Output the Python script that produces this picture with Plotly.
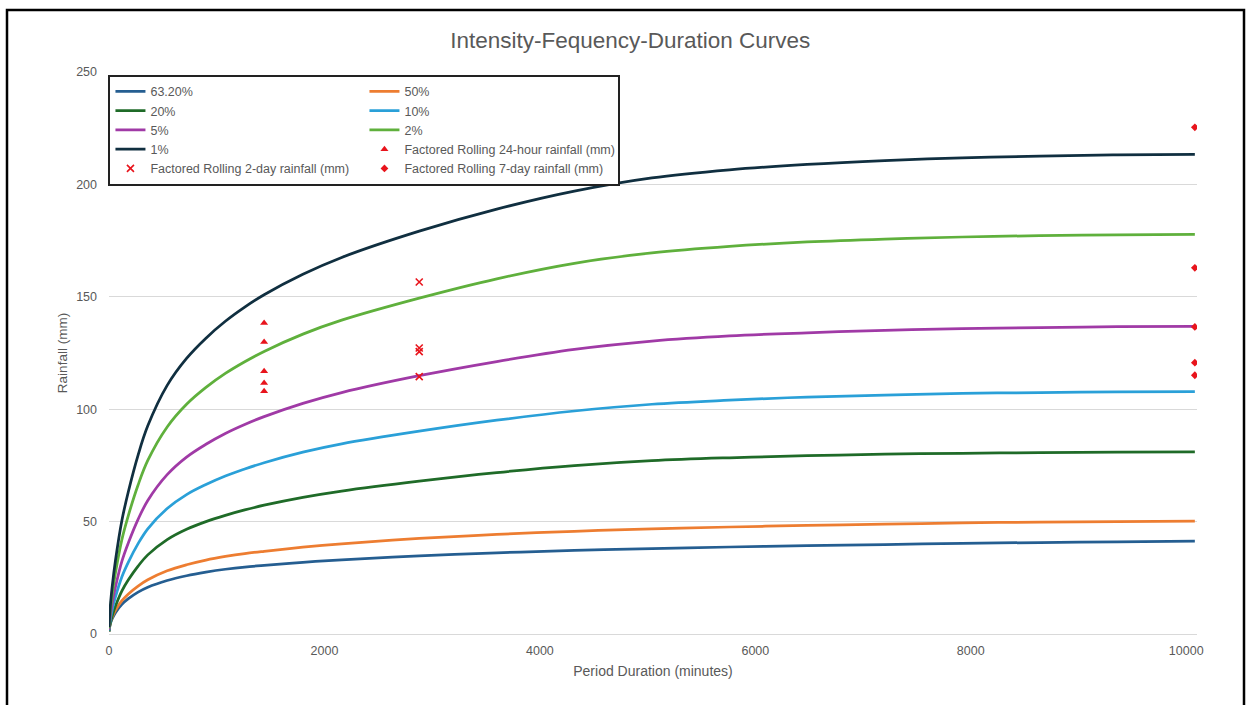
import plotly.graph_objects as go

# ---------------- data ----------------
durations = [1, 5, 10, 15, 30, 60, 120, 180, 270, 360, 540, 720, 900, 1080, 1260, 1440,
             1800, 2160, 2880, 3600, 4320, 5040, 5760, 6480, 7200, 7920, 8640, 9360, 10080]

rain_632pct = [1.1, 2.9, 4.1, 5.0, 6.8, 9.5, 13.2, 15.7, 18.6, 20.8, 23.8, 25.9, 27.5, 28.8, 29.8, 30.5,
               31.9, 33.0, 34.7, 36.1, 37.2, 38.0, 38.7, 39.3, 39.8, 40.3, 40.7, 41.0, 41.3]
rain_50pct = [1.2, 3.0, 4.5, 5.5, 7.5, 10.5, 14.8, 17.8, 21.3, 24.1, 28.1, 30.8, 32.9, 34.5, 35.8, 36.8,
              38.6, 40.1, 42.5, 44.3, 45.7, 46.8, 47.6, 48.3, 48.9, 49.4, 49.8, 50.0, 50.2]
rain_20pct = [1.2, 2.8, 4.2, 5.3, 8.1, 12.4, 19.2, 24.1, 30.2, 35.2, 42.0, 46.6, 50.0, 52.8, 55.2, 57.3,
              60.8, 63.6, 68.0, 71.8, 74.9, 77.1, 78.4, 79.3, 80.0, 80.4, 80.7, 80.9, 81.0]
rain_10pct = [1.5, 3.8, 5.6, 7.1, 10.8, 16.5, 25.5, 32.0, 40.2, 46.8, 55.8, 62.0, 66.5, 70.3, 73.4, 76.2,
              80.9, 84.6, 90.2, 95.1, 99.2, 102.2, 104.0, 105.4, 106.3, 107.0, 107.4, 107.7, 107.8]
rain_5pct = [1.9, 4.8, 7.1, 9.0, 13.7, 20.9, 32.4, 40.6, 51.0, 59.4, 70.9, 78.7, 84.4, 89.2, 93.2, 96.7,
             102.6, 107.4, 114.9, 121.2, 126.6, 130.3, 132.6, 134.0, 135.1, 135.8, 136.3, 136.7, 136.8]
rain_2pct = [2.5, 6.2, 9.2, 11.7, 17.8, 27.2, 42.1, 52.8, 66.3, 77.2, 92.1, 102.2, 109.7, 115.9, 121.1, 125.7,
             133.4, 139.6, 149.4, 158.0, 164.9, 169.5, 172.4, 174.4, 175.7, 176.6, 177.2, 177.6, 177.8]
rain_1pct = [3.0, 7.5, 11.1, 14.1, 21.3, 32.7, 50.6, 63.4, 79.6, 92.6, 110.6, 122.6, 131.6, 139.1, 145.4, 150.9,
             160.0, 167.5, 179.2, 189.0, 197.0, 202.9, 206.5, 208.9, 210.6, 211.8, 212.6, 213.1, 213.4]

curve_names = ["63.20%", "50%", "20%", "10%", "5%", "2%", "1%"]
curve_values = [rain_632pct, rain_50pct, rain_20pct, rain_10pct, rain_5pct, rain_2pct, rain_1pct]
curve_colors = ["#255e91", "#ed7d31", "#1f6b28", "#2aa0d8", "#a03aa6", "#5fb03c", "#102f40"]

obs_24h_duration = [1440, 1440, 1440, 1440, 1440]
obs_24h_rain = [138.4, 129.9, 116.9, 111.7, 108.0]
obs_2day_duration = [2880, 2880, 2880, 2880]
obs_2day_rain = [156.6, 127.2, 125.6, 114.5]
obs_7day_duration = [10080, 10080, 10080, 10080, 10080]
obs_7day_rain = [225.4, 162.9, 136.6, 120.7, 115.1]

x_ticks = [0, 2000, 4000, 6000, 8000, 10000]
y_ticks = [0, 50, 100, 150, 200, 250]

# ---------------- figure ----------------
FONT = "Liberation Sans, Arial, sans-serif"
GREY = "#595959"
RED = "#e8141c"

fig = go.Figure()

for name, vals, col in zip(curve_names, curve_values, curve_colors):
    fig.add_trace(go.Scatter(
        x=durations, y=vals, name=name, mode="lines",
        line=dict(color=col, width=2.75, shape="spline", smoothing=1.0),
    ))

fig.add_trace(go.Scatter(
    x=obs_24h_duration, y=obs_24h_rain, mode="markers",
    name="Factored Rolling 24-hour rainfall (mm)",
    marker=dict(symbol="triangle-up", size=7, color=RED),
))
fig.add_trace(go.Scatter(
    x=obs_2day_duration, y=obs_2day_rain, mode="markers",
    name="Factored Rolling 2-day rainfall (mm)",
    marker=dict(symbol="x-thin", size=7, color=RED, line=dict(color=RED, width=1.6)),
))
fig.add_trace(go.Scatter(
    x=obs_7day_duration, y=obs_7day_rain, mode="markers",
    name="Factored Rolling 7-day rainfall (mm)",
    marker=dict(symbol="diamond", size=6, color=RED),
))

fig.update_layout(
    width=1248, height=705,
    paper_bgcolor="white", plot_bgcolor="white",
    margin=dict(l=109, r=51, t=72, b=71, autoexpand=False),
    font=dict(family=FONT, color=GREY, size=12),
    title=dict(text="Intensity-Fequency-Duration Curves",
               x=0.505, xref="container", xanchor="center",
               y=1 - 40 / 705, yref="container", yanchor="middle",
               font=dict(size=22.5, color=GREY, family=FONT)),
    showlegend=True,
    legend=dict(
        orientation="h", x=-0.0005, xanchor="left", y=0.995, yanchor="top",
        entrywidth=209, entrywidthmode="pixels",
        bgcolor="white", bordercolor="#222222", borderwidth=2,
        font=dict(size=12.5, color=GREY, family=FONT),
        traceorder="normal",
    ),
    xaxis=dict(
        range=[0, 10100], tickvals=x_ticks, ticktext=[str(v) for v in x_ticks],
        showgrid=False, zeroline=False, showline=True, linecolor="#d9d9d9", linewidth=1,
        ticks="", ticklabelstandoff=5, tickfont=dict(size=12.5, color=GREY),
        title=dict(text="Period Duration (minutes)", font=dict(size=14, color=GREY), standoff=9),
    ),
    yaxis=dict(
        range=[0, 250], tickvals=y_ticks, ticktext=[str(v) for v in y_ticks],
        showgrid=True, gridcolor="#d9d9d9", gridwidth=1, zeroline=False, showline=False,
        ticks="", ticklabelstandoff=11, tickfont=dict(size=12.5, color=GREY),
        title=dict(text="Rainfall (mm)", font=dict(size=13.5, color=GREY), standoff=5),
    ),
    shapes=[dict(type="rect", xref="paper", yref="paper",
                 x0=-102 / 1088, x1=1135 / 1088, y0=-80 / 562, y1=1 + 62 / 562,
                 line=dict(color="black", width=2.5), fillcolor="rgba(0,0,0,0)", layer="below")],
)

fig.write_html("out.html", config={"displayModeBar": False},
               post_script="document.body.style.margin='0px';")
